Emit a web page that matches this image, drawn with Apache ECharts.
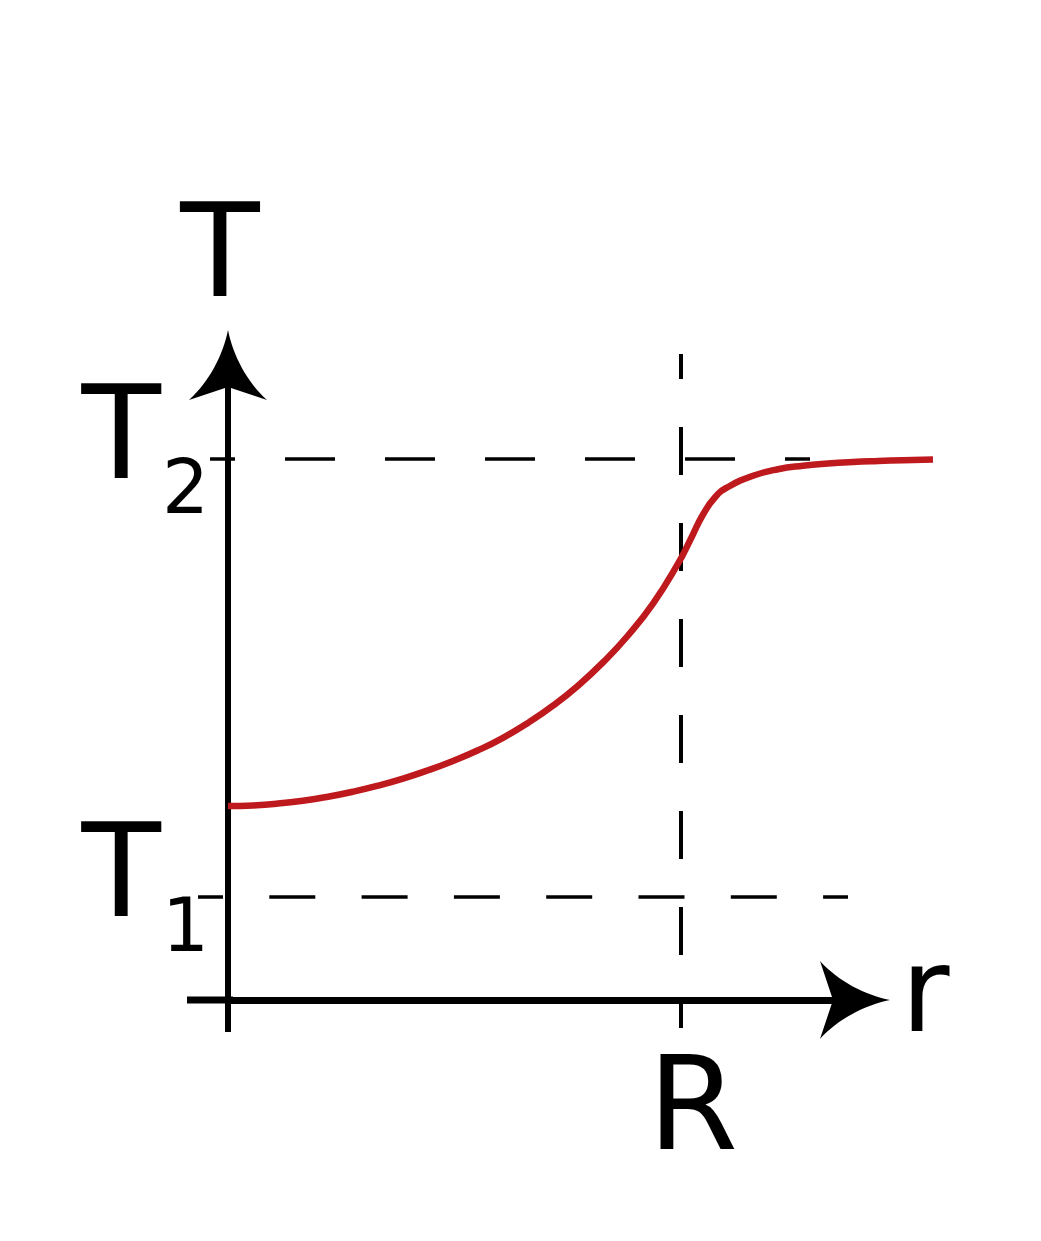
<!DOCTYPE html>
<html><head><meta charset="utf-8">
<script src="https://cdn.jsdelivr.net/npm/echarts@6/dist/echarts.min.js"></script>
<style>html,body{margin:0;padding:0;background:#fff}#c{width:1041px;height:1241px}</style>
</head><body><div id="c"></div>
<script>
// Curve T(r)
const rCurve = [0, 2.5, 5, 7.5, 10, 12.5, 15, 17.5, 20, 22.5, 25, 27.5, 30, 32.5, 35, 37.5, 40, 42.5, 45, 46.25, 47.5, 48.75, 50, 52.5, 55, 57.5, 60, 62.5, 65, 67.5, 70.5];
const tCurve = [19.40, 19.46, 19.64, 19.93, 20.33, 20.83, 21.43, 22.14, 22.97, 23.91, 24.97, 26.22, 27.71, 29.43, 31.43, 33.76, 36.45, 39.64, 43.64, 46.05, 48.55, 50.33, 51.30, 52.42, 53.08, 53.43, 53.65, 53.80, 53.90, 53.98, 54.05];
// Levels
const levelValues = [10.3, 54.1];
const levelNames = ['T', 'T'];
const levelSubs = ['1', '2'];
const rMarkValues = [45.3];
const rMarkNames = ['R'];
// Guide line extents
const t1GuideR = [-3.0, 62.0];
const t2GuideR = [-1.8, 58.2];
const rGuideT = [64.6, -2.8];

// label placement offsets (layout only)
const bigLabelShift = 1.5, subLabelShift = -3.45, rLabelShift = 1.2;

const FONT = 'DejaVu Sans';
const arrowPath = 'path://M39 0 C44 25 58 52 78 70 L39 57 L0 70 C20 52 34 25 39 0 Z';

function nearestIndex(arr, v) {
  let best = 0;
  arr.forEach((a, i) => { if (Math.abs(a - v) < Math.abs(arr[best] - v)) best = i; });
  return best;
}

const chart = echarts.init(document.getElementById('c'), null, {renderer: 'canvas'});
const hidden = {
  axisLine: {show: false}, axisTick: {show: false}, axisLabel: {show: false}, splitLine: {show: false}
};
const arrowLine = (w) => ({
  show: true, onZero: false, symbol: ['none', arrowPath], symbolSize: [78, 70], symbolOffset: [0, -15],
  lineStyle: {color: '#000', width: w, cap: 'butt'}
});
const option = {
  animation: false,
  backgroundColor: '#fff',
  grid: [
    // axes grid: origin at the axis corner
    {left: 228, right: 171, top: 350, bottom: 241, containLabel: false, outerBoundsMode: 'none'},
    // drawing grid: same scale, wider extent
    {left: 187, right: 101, top: 330, bottom: 209, containLabel: false, outerBoundsMode: 'none'}
  ],
  xAxis: [{
    gridIndex: 0, type: 'value', min: 0, max: 64.2,
    splitLine: {show: false}, axisTick: {show: false},
    axisLine: arrowLine(7),
    axisLabel: {
      customValues: rMarkValues.map(v => v + rLabelShift), margin: 50, color: '#000', fontFamily: FONT, fontSize: 130,
      formatter: v => rMarkNames[nearestIndex(rMarkValues.map(x => x + rLabelShift), v)]
    },
    name: 'r', nameLocation: 'end', nameGap: 31,
    nameTextStyle: {color: '#000', fontFamily: FONT, fontSize: 118, padding: [6, 0, 0, 0]}
  }, {
    gridIndex: 1, type: 'value', min: -4.1, max: 71.2, ...hidden
  }],
  yAxis: [{
    gridIndex: 0, type: 'value', min: 0, max: 65,
    splitLine: {show: false}, axisTick: {show: false},
    axisLine: arrowLine(6),
    axisLabel: {
      customValues: levelValues.map(v => v + bigLabelShift), margin: 67, color: '#000', fontFamily: FONT, fontSize: 130,
      verticalAlign: 'middle',
      formatter: v => levelNames[nearestIndex(levelValues.map(x => x + bigLabelShift), v)]
    },
    name: 'T', nameLocation: 'end', nameGap: 23,
    nameTextStyle: {color: '#000', fontFamily: FONT, fontSize: 130, padding: [0, 16, 0, 0]}
  }, {
    gridIndex: 0, type: 'value', min: 0, max: 65, position: 'left',
    splitLine: {show: false}, axisTick: {show: false},
    axisLine: {show: false, onZero: false},
    axisLabel: {
      customValues: levelValues.map(v => v + subLabelShift), margin: 19, color: '#000', fontFamily: FONT, fontSize: 74,
      verticalAlign: 'middle',
      formatter: v => levelSubs[nearestIndex(levelValues.map(x => x + subLabelShift), v)]
    }
  }, {
    gridIndex: 1, type: 'value', min: -3.2, max: 67, ...hidden
  }],
  series: [
    // axis stubs past the origin
    {
      type: 'line', xAxisIndex: 1, yAxisIndex: 2, symbol: 'none', silent: true, z: 3,
      data: [[-4.1, 0], [0.5, 0]],
      lineStyle: {color: '#000', width: 7, cap: 'butt'}
    },
    {
      type: 'line', xAxisIndex: 1, yAxisIndex: 2, symbol: 'none', silent: true, z: 3,
      data: [[0, -3.2], [0, 0.5]],
      lineStyle: {color: '#000', width: 6, cap: 'butt'}
    },
    {
      type: 'line', xAxisIndex: 1, yAxisIndex: 2, symbol: 'none', silent: true, z: 3,
      data: t2GuideR.map(r => [r, levelValues[1]]),
      lineStyle: {color: '#000', width: 3.5, type: [50, 50], dashOffset: 25}
    },
    {
      type: 'line', xAxisIndex: 1, yAxisIndex: 2, symbol: 'none', silent: true, z: 3,
      data: t1GuideR.map(r => [r, levelValues[0]]),
      lineStyle: {color: '#000', width: 3.5, type: [46, 46.3], dashOffset: 21}
    },
    {
      type: 'line', xAxisIndex: 1, yAxisIndex: 2, symbol: 'none', silent: true, z: 3,
      data: rGuideT.map(t => [rMarkValues[0], t]),
      lineStyle: {color: '#000', width: 4, type: [48, 48], dashOffset: 23}
    },
    {
      type: 'line', xAxisIndex: 1, yAxisIndex: 2, symbol: 'none', silent: true, z: 5,
      smooth: 0.5,
      data: rCurve.map((r, i) => [r, tCurve[i]]),
      lineStyle: {color: '#BE1A1D', width: 6.5, cap: 'butt'}
    }
  ]
};
chart.setOption(option);
</script>
</body></html>
